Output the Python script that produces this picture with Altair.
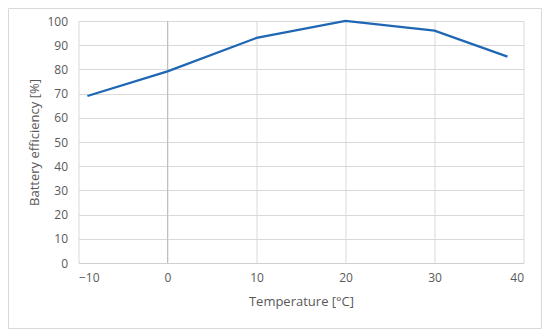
import altair as alt
import pandas as pd

temperature = [-9, 0, 10, 20, 30, 38.2]
efficiency = [69, 79.2, 93, 100, 96, 85.3]

df = pd.DataFrame({"Temperature": temperature, "Efficiency": efficiency})
zero_df = pd.DataFrame({"x": [0]})

W, H = 445, 242
FONT = "Open Sans"
GRAY = "#595959"

border = alt.Chart(zero_df).mark_rect(
    fill="white", fillOpacity=0, stroke="#d9d9d9", strokeWidth=1, clip=False
).encode(
    x=alt.value(-70), x2=alt.value(463), y=alt.value(-12.5), y2=alt.value(307.5)
)

zero_rule = alt.Chart(zero_df).mark_rule(color="#bfbfbf", strokeWidth=1).encode(
    x=alt.X("x:Q", scale=alt.Scale(domain=[-10, 40]))
)

line = alt.Chart(df).mark_line(color="#1f67b4", strokeWidth=2.25).encode(
    x=alt.X(
        "Temperature:Q",
        scale=alt.Scale(domain=[-10, 40], nice=False),
        axis=alt.Axis(
            title="Temperature [°C]", values=[-10, 0, 10, 20, 30, 40],
            tickCount=6, ticks=False, domain=True, domainColor="#d0d0d0",
            labelPadding=9, titlePadding=12, gridColor="#d9d9d9",
        ),
    ),
    y=alt.Y(
        "Efficiency:Q",
        scale=alt.Scale(domain=[0, 100], nice=False),
        axis=alt.Axis(
            title="Battery efficiency [%]", values=list(range(0, 101, 10)),
            ticks=False, domain=False, labelPadding=11, titlePadding=5,
            gridColor="#d9d9d9",
        ),
    ),
)

chart = alt.layer(border, zero_rule, line).properties(
    width=W, height=H,
    autosize=alt.AutoSizeParams(type="none"),
    padding={"left": 70.5, "top": 13, "right": 18.5, "bottom": 67},
).configure_view(stroke=None).configure_axis(
    labelFont=FONT, titleFont=FONT, labelColor=GRAY, titleColor=GRAY,
    labelFontSize=12, titleFontSize=13, titleFontWeight="normal",
)

chart.save("out.html", embed_options={"renderer": "svg", "actions": False})
